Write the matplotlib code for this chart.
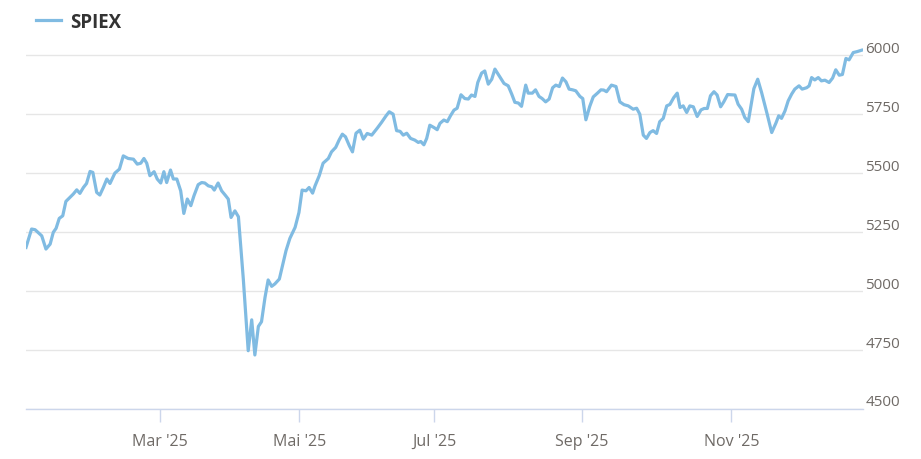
import matplotlib
matplotlib.use("Agg")
import matplotlib.pyplot as plt
from matplotlib.transforms import ScaledTranslation

plt.rcParams["font.family"] = ["Open Sans", "DejaVu Sans"]

# ── Data (x = trading day index, y = index level) ──────────────
days = [
    0.0, 1.6, 2.6, 4.5, 5.7, 6.9, 7.8, 8.6, 9.5, 10.5, 11.4, 12.8, 13.5, 14.5,
    15.4, 16.4, 17.3, 18.3, 19.1, 20.2, 21.1, 22.1, 23.1, 24.0, 25.4, 26.7,
    27.8, 29.2, 30.7, 31.8, 32.8, 33.7, 34.5, 35.4, 36.6, 37.5, 38.5, 39.4,
    40.2, 41.3, 42.1, 43.1, 44.2, 45.1, 46.1, 47.1, 48.0, 49.2, 50.2, 51.1,
    52.1, 53.1, 53.8, 54.9, 55.9, 56.9, 57.8, 58.6, 59.7, 60.7, 62.1, 63.5,
    64.5, 65.4, 66.4, 67.3, 68.3, 69.2, 70.2, 71.1, 72.4, 73.3, 74.3, 75.4,
    76.9, 78.0, 78.9, 80.0, 80.9, 81.9, 82.6, 83.8, 84.9, 86.4, 87.3, 88.5,
    89.5, 90.4, 91.3, 92.4, 93.3, 94.3, 95.4, 96.4, 97.5, 98.8, 100.4, 101.6,
    102.9, 103.8, 104.9, 105.9, 106.9, 107.8, 108.8, 109.9, 111.1, 112.1,
    112.8, 113.7, 114.5, 115.4, 116.6, 117.5, 118.3, 119.4, 120.4, 121.3,
    122.3, 123.2, 124.3, 125.4, 126.4, 127.3, 128.3, 129.1, 130.2, 131.1,
    132.1, 133.1, 134.0, 135.2, 136.6, 137.8, 138.8, 139.7, 140.7, 141.6,
    142.8, 143.5, 144.7, 145.6, 146.6, 147.5, 148.5, 149.5, 150.5, 151.4,
    152.4, 153.3, 154.3, 155.2, 156.2, 157.1, 158.3, 159.1, 160.0, 161.1,
    162.1, 163.3, 164.3, 165.1, 165.9, 167.3, 168.6, 169.7, 170.9, 172.1,
    173.5, 174.5, 175.4, 176.4, 177.3, 178.3, 179.2, 180.2, 181.1, 182.1,
    183.1, 184.0, 185.1, 186.1, 186.9, 187.8, 188.8, 189.7, 190.7, 191.8,
    192.9, 193.8, 194.7, 195.6, 196.6, 197.5, 198.5, 199.4, 200.5, 201.6,
    202.6, 203.5, 204.5, 205.4, 206.4, 208.0, 209.1, 210.2, 211.8, 213.1,
    214.3, 215.1, 215.9, 216.9, 217.8, 218.8, 219.7, 220.9, 221.8, 223.1,
    223.8, 224.5, 225.4, 226.4, 227.3, 228.3, 229.5, 230.5, 231.4, 232.4,
    233.3, 234.3, 235.2, 236.4, 237.5, 238.8,
]
spiex = [
    5185, 5263, 5260, 5234, 5178, 5199, 5249, 5266, 5308, 5319, 5380, 5401, 5411, 5429,
    5414, 5439, 5456, 5507, 5503, 5418, 5407, 5439, 5475, 5456, 5500, 5517,
    5573, 5562, 5559, 5538, 5542, 5562, 5542, 5489, 5506, 5475, 5458, 5506,
    5460, 5513, 5475, 5475, 5425, 5329, 5390, 5362, 5404, 5451, 5460, 5458,
    5446, 5442, 5428, 5458, 5425, 5407, 5390, 5312, 5340, 5315, 5051, 4747,
    4878, 4729, 4850, 4870, 4973, 5047, 5020, 5030, 5051, 5107, 5171, 5223,
    5270, 5333, 5428, 5425, 5439, 5415, 5446, 5489, 5542, 5562, 5590, 5609,
    5641, 5665, 5654, 5616, 5590, 5669, 5682, 5644, 5668, 5661, 5691, 5715,
    5743, 5760, 5750, 5680, 5677, 5661, 5669, 5647, 5640, 5630,
    5634, 5620, 5647, 5703, 5693, 5684, 5711, 5725, 5718, 5743,
    5767, 5775, 5832, 5816, 5814, 5831, 5825, 5884, 5924, 5933,
    5877, 5898, 5941, 5913, 5880, 5870, 5835, 5800, 5797, 5783,
    5873, 5839, 5839, 5853, 5825, 5816, 5802, 5814, 5862, 5873,
    5867, 5903, 5887, 5856, 5853, 5849, 5825, 5816, 5726, 5783,
    5823, 5839, 5853, 5852, 5845, 5873, 5867, 5802, 5790, 5785,
    5771, 5775, 5750, 5661, 5647, 5672, 5680, 5668, 5718, 5732,
    5785, 5791, 5820, 5839, 5778, 5785, 5757, 5785, 5781, 5740,
    5768, 5774, 5774, 5828, 5845, 5831, 5781, 5802, 5833, 5832,
    5831, 5792, 5771, 5736, 5718, 5858, 5898, 5842, 5750, 5672,
    5712, 5743, 5732, 5764, 5806, 5835, 5856, 5870, 5856, 5862,
    5870, 5905, 5895, 5905, 5891, 5894, 5884, 5903, 5938, 5915,
    5918, 5986, 5980, 6011, 6015, 6021,
]

month_pos = [38.3, 78.1, 116.7, 158.8, 201.6]
month_labels = ["Mar '25", "Mai '25", "Jul '25", "Sep '25", "Nov '25"]
y_ticks = [4500, 4750, 5000, 5250, 5500, 5750, 6000]

LINE = "#80bbe2"
GRID = "#e6e6e6"
AXIS = "#ccd6eb"
LABEL = "#6f6a66"

fig = plt.figure(figsize=(9.21, 4.60), dpi=100)
ax = fig.add_axes([26 / 921, 50 / 460, (862.7 - 26) / 921, (418 - 50) / 460])

ax.plot(days, spiex, color=LINE, lw=2.3, solid_joinstyle="round", label="SPIEX", zorder=3)

ax.set_xlim(0, 239.1)
ax.set_ylim(4500, 6060)

# y axis on the right, labels above their gridline
ax.yaxis.tick_right()
ax.set_yticks(y_ticks)
ax.set_yticklabels([str(v) for v in y_ticks])
ax.tick_params(axis="y", length=0, pad=2, labelsize=11, labelcolor=LABEL)
for lbl in ax.get_yticklabels():
    lbl.set_transform(lbl.get_transform() + ScaledTranslation(0, 9 / 100, fig.dpi_scale_trans))
ax.grid(axis="y", color=GRID, lw=1)

ax.set_xticks(month_pos)
ax.set_xticklabels(month_labels)
ax.tick_params(axis="x", length=9.5, width=1, color=AXIS, pad=7.5, labelsize=11.5, labelcolor=LABEL)

for s in ["top", "left", "right"]:
    ax.spines[s].set_visible(False)
ax.spines["bottom"].set_color(AXIS)
ax.spines["bottom"].set_linewidth(1)
ax.set_axisbelow(True)

fig.legend(loc="upper left", bbox_to_anchor=(36 / 921, 1 - 13 / 460), frameon=False,
           handlelength=1.35, handletextpad=0.45, borderaxespad=0, borderpad=0,
           prop={"weight": "bold", "size": 13.5}, labelcolor="#333333")

fig.savefig("out.png", dpi=100, facecolor="white")
